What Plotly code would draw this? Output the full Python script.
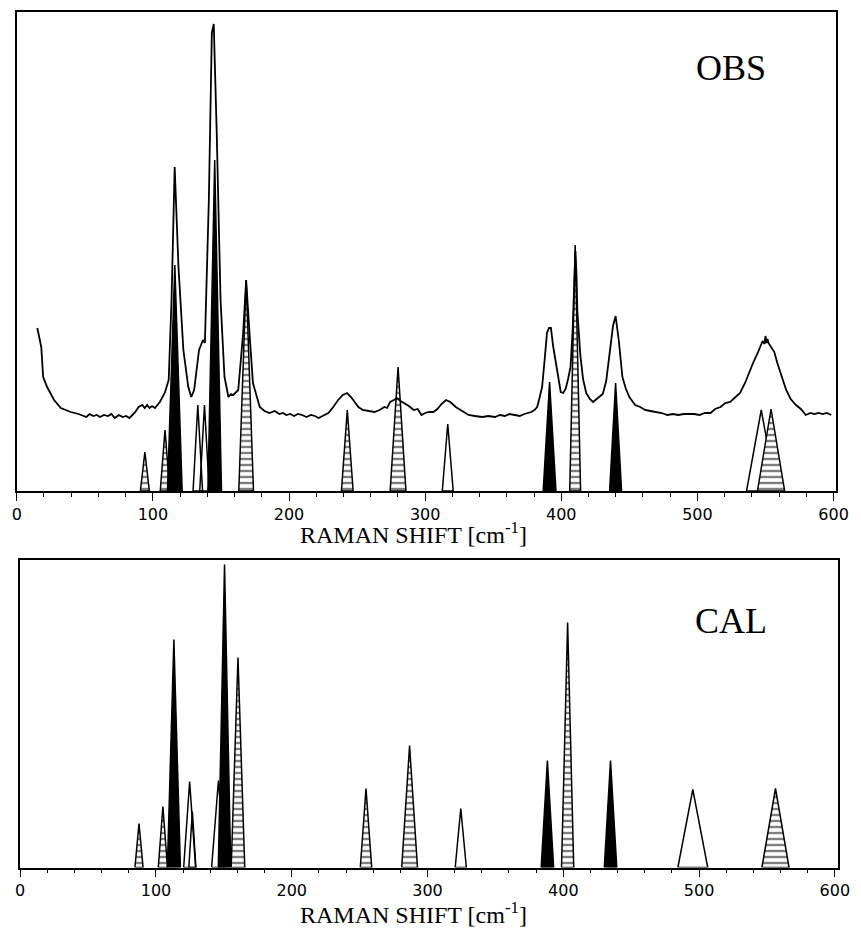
import plotly.graph_objects as go

# ---------------- data ----------------
# Observed Raman spectrum (shift in cm-1, intensity in arbitrary units)
obs_shift = [
    15.1, 18.0, 19.4, 22.3, 27.4, 32.4, 39.6, 45.4, 51.1, 53.5,
    56.2, 58.8, 61.2, 64.0, 67.0, 69.5, 72.0, 75.0, 77.8, 80.3,
    82.8, 85.0, 87.1, 89.5, 92.2, 94.0, 95.8, 97.5, 99.4, 101.5,
    103.3, 105.1, 108.7, 111.6, 113.7, 116.0, 118.8, 122.4, 126.0, 128.2,
    130.3, 133.9, 136.8, 138.2, 141.1, 143.3, 144.7, 146.9, 149.7, 152.6,
    155.5, 157.3, 159.1, 160.9, 162.7, 166.3, 168.5, 171.4, 173.5, 178.5,
    182.0, 185.7, 189.5, 192.9, 195.5, 198.0, 201.0, 203.7, 206.5, 209.5,
    213.0, 216.0, 219.0, 221.7, 225.0, 228.9, 232.5, 236.1, 239.5, 242.6,
    245.5, 248.4, 251.0, 254.1, 258.5, 262.8, 266.5, 270.0, 272.0, 274.3,
    277.0, 279.3, 282.0, 284.4, 288.0, 291.6, 294.5, 297.3, 300.0, 303.0,
    306.0, 309.0, 312.0, 315.3, 318.5, 322.5, 327.0, 331.9, 336.5, 342.0,
    346.5, 351.3, 355.0, 358.5, 362.0, 365.7, 369.5, 372.9, 375.5, 378.0,
    380.3, 382.3, 384.0, 385.9, 387.7, 389.5, 391.0, 392.4, 394.0, 396.0,
    397.8, 399.6, 401.4, 403.2, 405.0, 406.8, 408.3, 409.6, 410.4, 411.2,
    411.8, 414.0, 416.0, 418.3, 421.0, 423.3, 426.0, 428.0, 430.5, 433.0,
    435.6, 438.0, 439.9, 442.3, 444.9, 447.5, 450.0, 454.3, 458.0, 461.5,
    465.5, 469.5, 473.7, 478.0, 482.0, 486.0, 490.0, 494.0, 497.5, 501.5,
    505.5, 509.7, 513.0, 517.0, 520.5, 524.1, 527.5, 531.3, 535.0, 538.5,
    541.5, 544.3, 546.5, 547.9, 549.3, 550.0, 550.8, 551.5, 552.2, 554.4,
    556.5, 558.7, 562.0, 565.2, 568.5, 572.4, 576.0, 579.6, 583.0, 586.0,
    589.0, 592.0, 595.0, 598.3,
]
obs_intensity = [
    163, 144, 114, 104, 91, 83, 79, 77, 74, 77,
    75, 76, 74, 76, 75, 77, 73, 76, 74, 75,
    73, 76, 79, 84, 86, 83, 86, 83, 85, 83,
    86, 89, 98, 111, 191, 324, 224, 141, 104, 94,
    101, 141, 151, 148, 291, 458, 467, 358, 191, 114,
    94, 97, 96, 99, 101, 158, 211, 149, 108, 84,
    80, 78, 80, 77, 78, 76, 77, 75, 77, 76,
    74, 76, 75, 73, 75, 78, 84, 91, 96, 98,
    94, 89, 84, 81, 80, 79, 81, 84, 83, 89,
    91, 93, 90, 88, 85, 81, 82, 76, 78, 79,
    79, 82, 87, 91, 89, 84, 80, 76, 75, 74,
    75, 74, 76, 75, 77, 76, 75, 77, 78, 79,
    81, 84, 93, 104, 130, 158, 163, 163, 145, 128,
    110, 99, 98, 102, 112, 124, 160, 215, 240, 215,
    180, 136, 112, 98, 92, 89, 92, 95, 97, 110,
    136, 165, 175, 150, 114, 102, 94, 86, 84, 81,
    80, 79, 78, 76, 77, 76, 77, 77, 77, 76,
    78, 78, 82, 84, 88, 89, 93, 98, 108, 121,
    130, 138, 145, 150, 147, 155, 148, 152, 148, 143,
    139, 128, 114, 101, 92, 86, 82, 76, 78, 77,
    78, 77, 78, 76,
]

# Observed band assignments (position, intensity, half width, symmetry type)
obs_pos = [94.1, 108.9, 116.1, 133.0, 137.9, 145.4, 168.5, 242.8, 280.1,
           316.6, 391.4, 410.2, 439.9, 546.9, 554.1]
obs_int = [39, 61, 226, 86, 86, 331, 211, 81, 124, 67, 109, 246, 108, 81, 82]
obs_hw = [3.3, 3.5, 5.4, 3.5, 3.5, 5.0, 5.4, 4.3, 5.8, 4.0, 4.7, 4.0, 4.4, 10.8, 10.0]
obs_type = ["hatch", "hatch", "solid", "open", "open", "solid", "hatch", "hatch",
            "hatch", "open", "solid", "hatch", "solid", "open", "hatch"]

# Calculated bands
cal_pos = [87.5, 105.1, 113.2, 124.8, 126.8, 146.0, 150.5, 160.4, 254.7, 286.8,
           324.5, 388.3, 403.2, 434.8, 495.4, 556.3]
cal_int = [44, 61, 228, 86, 56, 87, 303, 210, 79, 122, 59, 107, 245, 107, 78, 79]
cal_hw = [3.0, 3.4, 4.8, 4.4, 2.6, 5.0, 4.6, 5.0, 4.2, 5.8, 4.1, 4.6, 4.5, 4.6, 11.0, 10.0]
cal_type = ["hatch", "hatch", "solid", "open", "open", "open", "solid", "hatch", "hatch",
            "hatch", "open", "solid", "hatch", "solid", "open", "hatch"]

x_ticks = [0, 100, 200, 300, 400, 500, 600]
axis_title = "RAMAN SHIFT [cm<sup>-1</sup>]"

# ---------------- figure ----------------
W, H = 861, 930
fig = go.Figure()

def add_bands(pos, inten, hw, typ, xa, ya):
    order = {"open": 0, "hatch": 1, "solid": 2}
    idx = sorted(range(len(pos)), key=lambda i: order[typ[i]])
    for i in idx:
        c, h, w, t = pos[i], inten[i], hw[i], typ[i]
        xs = [c - w, c, c + w, c - w]
        ys = [0, h, 0, 0]
        kw = dict(x=xs, y=ys, mode="lines", xaxis=xa, yaxis=ya,
                  line=dict(color="black", width=1.5), showlegend=False,
                  hoverinfo="skip")
        if t == "solid":
            kw.update(fill="toself", fillcolor="black")
        elif t == "hatch":
            kw.update(fill="toself", fillcolor="white",
                      fillpattern=dict(shape="-", fgcolor="black", bgcolor="white",
                                       size=6, solidity=0.4))
        fig.add_trace(go.Scatter(**kw))

add_bands(obs_pos, obs_int, obs_hw, obs_type, "x", "y")
fig.add_trace(go.Scatter(x=obs_shift, y=obs_intensity, mode="lines",
                         line=dict(color="black", width=1.8),
                         xaxis="x", yaxis="y", showlegend=False,
                         hoverinfo="skip"))
add_bands(cal_pos, cal_int, cal_hw, cal_type, "x2", "y2")

tickfont = dict(family="DejaVu Sans", size=16, color="black")
common_x = dict(tickmode="array", tickvals=x_ticks, ticks="outside", ticklen=8,
                tickwidth=1.3, tickcolor="black", showline=True, linecolor="black",
                linewidth=1.5, mirror=True, showgrid=False, zeroline=False,
                tickfont=tickfont,
                minor=dict(dtick=20, tick0=0, ticks="outside", ticklen=4,
                           tickwidth=1.1, tickcolor="black", showgrid=False))
common_y = dict(showline=True, linecolor="black", linewidth=1.5, mirror=True,
                showgrid=False, zeroline=False, showticklabels=False, ticks="")

fig.update_layout(
    width=W, height=H, margin=dict(l=0, r=0, t=0, b=0),
    paper_bgcolor="white", plot_bgcolor="white", showlegend=False,
    xaxis=dict(domain=[12 / W, 848 / W], range=[0, 602], anchor="y", **common_x),
    yaxis=dict(domain=[(H - 491) / H, (H - 12) / H], range=[0, 479], anchor="x", **common_y),
    xaxis2=dict(domain=[15.5 / W, 850 / W], range=[0, 602.5], anchor="y2", **common_x),
    yaxis2=dict(domain=[(H - 867.5) / H, (H - 560) / H], range=[0, 307.5], anchor="x2", **common_y),
)

serif = "Liberation Serif, Times New Roman, serif"
fig.add_annotation(text=axis_title, x=417 / W, y=(H - 550) / H, xref="paper", yref="paper",
                   showarrow=False, xanchor="center", yanchor="bottom",
                   font=dict(family=serif, size=24, color="black"))
fig.add_annotation(text=axis_title, x=417 / W, y=0, xref="paper", yref="paper",
                   showarrow=False, xanchor="center", yanchor="bottom",
                   font=dict(family=serif, size=24, color="black"))
fig.add_annotation(text="OBS", x=741 / W, y=(H - 68) / H, xref="paper", yref="paper",
                   showarrow=False, xanchor="center", yanchor="middle",
                   font=dict(family=serif, size=36, color="black"))
fig.add_annotation(text="CAL", x=741 / W, y=(H - 621) / H, xref="paper", yref="paper",
                   showarrow=False, xanchor="center", yanchor="middle",
                   font=dict(family=serif, size=36, color="black"))

fig.write_html("out.html")
